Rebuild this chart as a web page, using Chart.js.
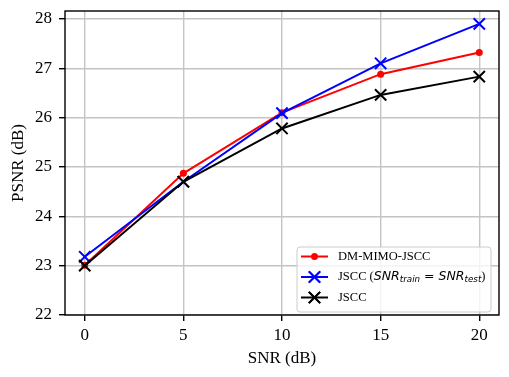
<!DOCTYPE html>
<html>
<head>
<meta charset="utf-8">
<script src="https://cdn.jsdelivr.net/npm/chart.js@4/dist/chart.umd.min.js"></script>
<style>
  body { margin: 0; background: #fff; }
  canvas { display: block; }
</style>
</head>
<body>
<canvas id="psnrChart" width="509" height="377"></canvas>
<script>
// values
const snrValues = [0, 5, 10, 15, 20];
const dmMimoJscc = [23.01, 24.87, 26.10, 26.88, 27.32];
const jsccMatched = [23.18, 24.70, 26.09, 27.10, 27.90];
const jsccPlain = [23.00, 24.70, 25.78, 26.46, 26.83];

const xTicks = [0, 5, 10, 15, 20];
const yTicks = [22, 23, 24, 25, 26, 27, 28];

const seriesLabels = ["DM-MIMO-JSCC", "JSCC ($SNR_{train} = SNR_{test}$)", "JSCC"];

const serif = "'Liberation Serif', 'Times New Roman', serif";
const mathFont = "'DejaVu Sans', sans-serif";

function toPoints(ys) {
    return snrValues.map((x, i) => ({ x: x, y: ys[i] }));
}

// split a matplotlib-style label into text runs (plain / math / subscript)
function parseLabel(label) {
    const runs = [];
    const parts = label.split("$");
    parts.forEach((part, i) => {
        if (i % 2 === 0) {
            if (part) runs.push({ text: part, kind: "plain" });
            return;
        }
        const re = /_\{([^}]*)\}|([A-Za-z]+)|([^A-Za-z_]+)/g;
        let m;
        while ((m = re.exec(part)) !== null) {
            if (m[1] !== undefined) runs.push({ text: m[1], kind: "sub" });
            else if (m[2] !== undefined) runs.push({ text: m[2], kind: "italic" });
            else runs.push({ text: m[3], kind: "math" });
        }
    });
    return runs;
}

const fontSize = 12.5;
function runFont(kind) {
    if (kind === "plain") return fontSize + "px " + serif;
    if (kind === "italic") return "oblique " + fontSize + "px " + mathFont;
    if (kind === "sub") return "oblique " + (fontSize * 0.7) + "px " + mathFont;
    return fontSize + "px " + mathFont;
}

const frameAndLegend = {
    id: "frameAndLegend",
    afterDatasetsDraw(chart) {
        const { ctx, chartArea: a } = chart;
        ctx.save();
        ctx.strokeStyle = "#000";
        ctx.lineWidth = 1.4;
        ctx.strokeRect(a.left, a.top, a.right - a.left, a.bottom - a.top);
        ctx.restore();
    },
    afterDraw(chart) {
        const ctx = chart.ctx;
        const box = { x: 297, y: 247, w: 194, h: 65 };
        ctx.save();
        ctx.beginPath();
        ctx.roundRect(box.x, box.y, box.w, box.h, 3);
        ctx.fillStyle = "rgba(255,255,255,0.8)";
        ctx.fill();
        ctx.strokeStyle = "#cccccc";
        ctx.lineWidth = 1;
        ctx.stroke();

        chart.data.datasets.forEach((ds, i) => {
            const rowY = 256.5 + i * 20.5;
            ctx.beginPath();
            ctx.moveTo(301, rowY);
            ctx.lineTo(328, rowY);
            ctx.strokeStyle = ds.borderColor;
            ctx.lineWidth = ds.borderWidth;
            ctx.stroke();
            Chart.helpers.drawPoint(ctx, {
                pointStyle: ds.pointStyle,
                radius: ds.pointRadius,
                borderWidth: ds.pointBorderWidth,
                rotation: 0
            }, 314.5, rowY);
            ctx.fillStyle = ds.borderColor;
            ctx.strokeStyle = ds.borderColor;
            if (ds.pointStyle === "circle") ctx.fill();
            else ctx.stroke();

            let x = 338;
            ctx.fillStyle = "#000";
            ctx.textBaseline = "middle";
            parseLabel(ds.label).forEach(run => {
                ctx.font = runFont(run.kind);
                const dy = run.kind === "sub" ? 2.8 : 0;
                ctx.fillText(run.text, x, rowY + dy);
                x += ctx.measureText(run.text).width;
            });
        });
        ctx.restore();
    }
};

const lineStyle = {
    borderWidth: 2,
    fill: false,
    tension: 0,
    pointBorderWidth: 2
};

new Chart(document.getElementById("psnrChart").getContext("2d"), {
    type: "line",
    data: {
        datasets: [
            Object.assign({
                label: seriesLabels[0],
                data: toPoints(dmMimoJscc),
                borderColor: "#ff0000",
                backgroundColor: "#ff0000",
                pointStyle: "circle",
                pointRadius: 3.5,
                order: 3
            }, lineStyle, { pointBorderWidth: 0 }),
            Object.assign({
                label: seriesLabels[1],
                data: toPoints(jsccMatched),
                borderColor: "#0000ff",
                backgroundColor: "#0000ff",
                pointStyle: "crossRot",
                pointRadius: 8,
                order: 2
            }, lineStyle),
            Object.assign({
                label: seriesLabels[2],
                data: toPoints(jsccPlain),
                borderColor: "#000000",
                backgroundColor: "#000000",
                pointStyle: "crossRot",
                pointRadius: 8,
                order: 1
            }, lineStyle)
        ]
    },
    options: {
        responsive: false,
        animation: false,
        events: [],
        layout: { padding: { top: 11, right: 10, left: 0, bottom: 0 } },
        plugins: {
            legend: { display: false },
            tooltip: { enabled: false }
        },
        scales: {
            x: {
                type: "linear",
                min: -1,
                max: 21,
                afterBuildTicks: axis => { axis.ticks = xTicks.map(v => ({ value: v })); },
                afterFit: axis => {
                    axis.height = 62;
                    axis.paddingLeft = 0;
                    axis.paddingRight = 0;
                },
                grid: {
                    color: "#c4c4c4",
                    lineWidth: 1.4,
                    drawTicks: true,
                    tickLength: 6,
                    tickColor: "#000",
                    tickWidth: 1.4
                },
                border: { display: false },
                ticks: {
                    color: "#000",
                    font: { family: serif, size: 17 },
                    padding: 4,
                    maxRotation: 0
                },
                title: {
                    display: true,
                    text: "SNR (dB)",
                    color: "#000",
                    font: { family: serif, size: 17 },
                    padding: { top: 0, bottom: 8 }
                }
            },
            y: {
                min: 22,
                max: 28.16,
                afterBuildTicks: axis => { axis.ticks = yTicks.map(v => ({ value: v })); },
                afterFit: axis => {
                    axis.width = 65;
                    axis.paddingTop = 0;
                    axis.paddingBottom = 0;
                },
                grid: {
                    color: "#c4c4c4",
                    lineWidth: 1.4,
                    drawTicks: true,
                    tickLength: 6,
                    tickColor: "#000",
                    tickWidth: 1.4
                },
                border: { display: false },
                ticks: {
                    color: "#000",
                    font: { family: serif, size: 17 },
                    padding: 7
                },
                title: {
                    display: true,
                    text: "PSNR (dB)",
                    color: "#000",
                    font: { family: serif, size: 17 },
                    padding: { top: 8, bottom: 0 }
                }
            }
        }
    },
    plugins: [frameAndLegend]
});
</script>
</body>
</html>
